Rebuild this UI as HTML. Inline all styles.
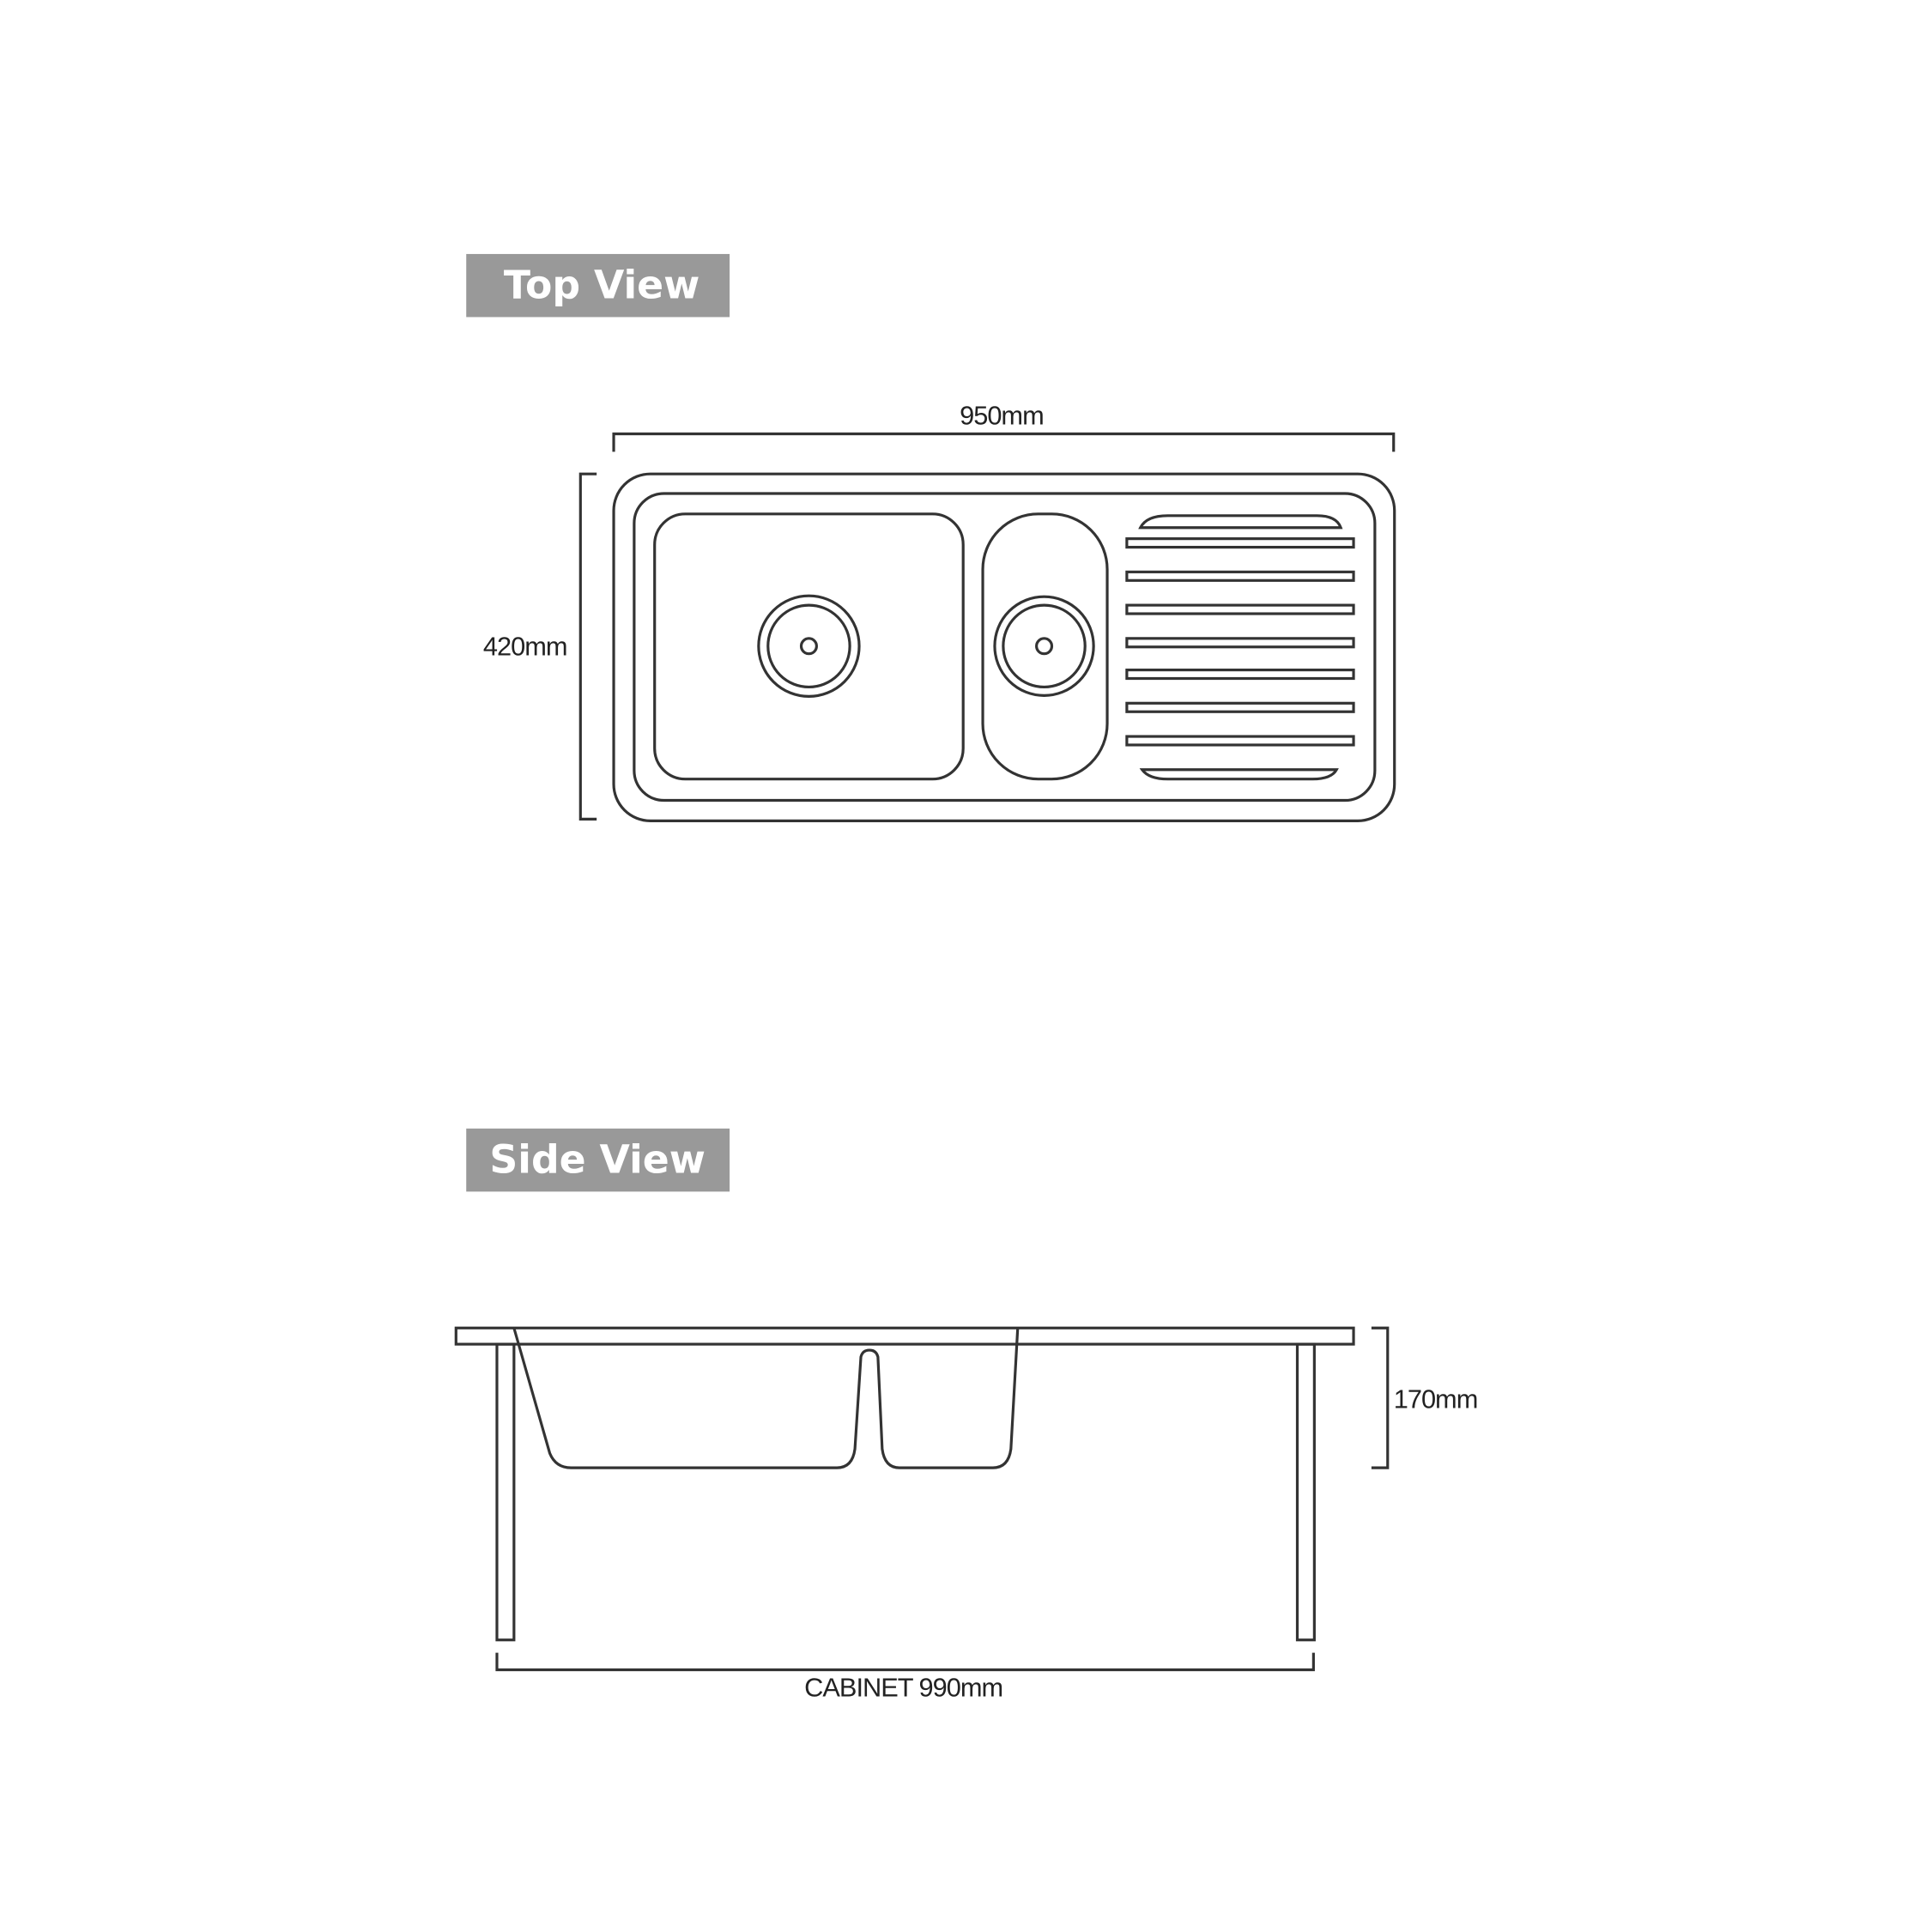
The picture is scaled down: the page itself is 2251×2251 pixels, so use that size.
<!DOCTYPE html>
<html><head><style>
html,body{margin:0;padding:0;background:#fff;}
svg{display:block;}
</style></head><body>
<svg width="2251" height="2251" viewBox="0 0 2251 2251" xmlns="http://www.w3.org/2000/svg">
<rect width="2251" height="2251" fill="#fff"/>
<g transform="scale(0.9931)">
<g font-family="'DejaVu Sans', sans-serif" font-weight="bold" fill="#fff" font-size="46">
<rect x="547" y="298" width="309" height="74" fill="#999"/>
<text x="706" y="350" text-anchor="middle">Top View</text>
<rect x="547" y="1324" width="309" height="74" fill="#999"/>
<text x="701" y="1376" text-anchor="middle">Side View</text>
</g>
<g fill="none" stroke="#333" stroke-width="3.2">
<path d="M720 530 V509 H1635 V530"/>
<path d="M700 556 H681 V961 H700"/>
<rect x="720" y="556" width="916" height="407" rx="43"/>
<rect x="744" y="579" width="869" height="360" rx="35"/>
<rect x="768" y="603" width="362" height="311" rx="36"/>
<rect x="1153" y="603" width="146" height="311" rx="65"/>
<circle cx="949" cy="758" r="59"/><circle cx="949" cy="758" r="48"/><circle cx="949" cy="758" r="9"/>
<circle cx="1225" cy="758" r="58"/><circle cx="1225" cy="758" r="48"/><circle cx="1225" cy="758" r="9"/>
<path d="M1338 619 Q1345 605 1370 605 H1545 Q1568 605 1573 619 Z"/>
<rect x="1322" y="632" width="266" height="10"/>
<rect x="1322" y="671" width="266" height="10"/>
<rect x="1322" y="710" width="266" height="10"/>
<rect x="1322" y="749" width="266" height="10"/>
<rect x="1322" y="786" width="266" height="10"/>
<rect x="1322" y="825" width="266" height="10"/>
<rect x="1322" y="864" width="266" height="10"/>
<path d="M1340 903 H1568 Q1562 914 1540 914 H1370 Q1348 914 1340 903 Z"/>
<rect x="535" y="1558" width="1053" height="19"/>
<rect x="583" y="1577" width="20" height="347"/>
<rect x="1522" y="1577" width="20" height="347"/>
<path d="M603 1558 L645 1705 Q652 1722 670 1722 H982 Q1000 1722 1003 1700 L1010 1592 Q1012 1584 1020 1584 Q1028 1584 1030 1592 L1035 1700 Q1038 1722 1055 1722 H1165 Q1183 1722 1186 1700 L1194 1558"/>
<path d="M1609 1558 H1628 V1722 H1609"/>
<path d="M583 1939 V1959 H1541 V1939"/>
</g>
<g font-family="'Liberation Sans', sans-serif" font-size="31" fill="#222" letter-spacing="-1">
<text x="1175" y="498" text-anchor="middle">950mm</text>
<text x="616" y="769" text-anchor="middle">420mm</text>
<text x="1635" y="1652">170mm</text>
<text x="1060" y="1990" text-anchor="middle">CABINET 990mm</text>
</g>
</g>
</svg>
</body></html>
